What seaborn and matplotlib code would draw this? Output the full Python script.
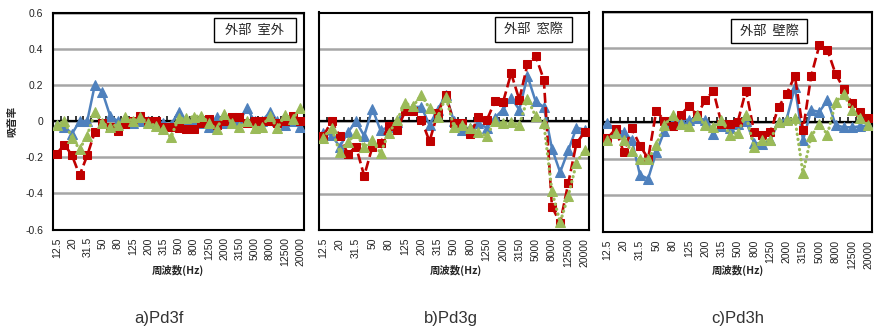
import numpy as np
import pandas as pd
import matplotlib
matplotlib.use("Agg")
import matplotlib.pyplot as plt
from matplotlib import font_manager
from matplotlib.patches import Rectangle
import seaborn as sns

# 1/3-octave band centre frequencies (Hz)
bands = ["12.5", "16", "20", "25", "31.5", "40", "50", "63", "80", "100",
         "125", "160", "200", "250", "315", "400", "500", "630", "800", "1000",
         "1250", "1600", "2000", "2500", "3150", "4000", "5000", "6300", "8000",
         "10000", "12500", "16000", "20000"]
tick_labels = bands[::2]

panel_titles = ["a)Pd3f", "b)Pd3g", "c)Pd3h"]
box_labels = ["外部  室外", "外部  窓際", "外部  壁際"]

# absorption coefficient, three measurement series per panel
blue_a = [-0.02, -0.03, -0.07, 0.0, 0.0, 0.20, 0.16, 0.03, 0.0, -0.01, -0.01, 0.0, 0.0,
          -0.01, -0.01, -0.02, 0.05, 0.0, 0.0, -0.01, -0.03, 0.02, -0.01, 0.0, 0.0, 0.07,
          0.0, 0.0, 0.05, 0.0, -0.02, 0.0, -0.03]
red_a = [-0.18, -0.13, -0.19, -0.30, -0.19, -0.06, -0.01, -0.03, -0.055, -0.015, 0.0, 0.03,
         0.0, 0.0, -0.03, -0.03, -0.04, -0.045, -0.045, -0.01, 0.01, -0.02, 0.0, 0.02, 0.02,
         -0.01, 0.0, 0.0, 0.0, -0.01, 0.0, 0.03, 0.0]
green_a = [-0.02, 0.0, -0.095, -0.155, -0.08, 0.05, -0.013, -0.03, -0.02, 0.025, 0.0, 0.02,
           -0.01, -0.025, -0.045, -0.09, 0.015, 0.015, 0.025, 0.03, -0.01, -0.045, 0.04,
           -0.01, -0.035, 0.0, -0.04, -0.03, 0.03, -0.04, 0.035, 0.01, 0.07]

blue_b = [-0.065, -0.075, -0.14, -0.06, 0.0, -0.08, 0.07, -0.05, -0.03, -0.005, 0.065, 0.08,
          0.08, -0.02, 0.065, 0.145, 0.0, -0.045, -0.035, -0.01, -0.035, 0.02, 0.065, 0.13,
          0.065, 0.25, 0.11, 0.08, -0.15, -0.28, -0.16, -0.035, -0.045]
red_b = [-0.08, 0.0, -0.08, -0.18, -0.14, -0.30, -0.14, -0.12, -0.025, -0.05, 0.055, 0.06,
         0.01, -0.11, 0.045, 0.145, -0.01, -0.01, -0.07, 0.025, 0.005, 0.11, 0.105, 0.265,
         0.12, 0.315, 0.36, 0.23, -0.47, -0.56, -0.34, -0.12, -0.06]
green_b = [-0.09, -0.035, -0.17, -0.115, -0.065, -0.14, -0.105, -0.175, -0.065, 0.005, 0.10,
           0.085, 0.145, 0.072, 0.022, 0.135, -0.03, -0.02, -0.037, -0.058, -0.08, 0.0,
           -0.01, -0.005, -0.02, 0.125, 0.028, -0.01, -0.385, -0.557, -0.41, -0.23, -0.155]

blue_c = [-0.005, -0.045, -0.055, -0.10, -0.29, -0.31, -0.165, -0.05, 0.0, 0.01, 0.01, 0.02,
          0.01, -0.065, -0.025, -0.035, -0.01, 0.005, -0.115, -0.12, -0.10, 0.0, 0.015, 0.19,
          -0.10, 0.063, 0.054, 0.117, -0.018, -0.03, -0.03, -0.025, -0.02]
red_c = [-0.09, -0.04, -0.165, -0.036, -0.13, -0.20, 0.06, 0.005, -0.023, 0.036, 0.085, 0.036,
         0.117, 0.168, -0.01, -0.01, 0.0, 0.17, -0.054, -0.07, -0.055, 0.08, 0.153, 0.25,
         -0.045, 0.25, 0.415, 0.39, 0.26, 0.18, 0.10, 0.055, 0.02]
green_c = [-0.10, -0.06, -0.10, -0.16, -0.20, -0.205, -0.125, -0.02, 0.035, -0.01, -0.025,
           0.035, -0.02, -0.03, 0.01, -0.07, -0.06, 0.036, -0.14, -0.10, -0.10, 0.0, 0.01,
           0.02, -0.28, -0.08, -0.01, -0.07, 0.108, 0.153, 0.063, 0.02, -0.02]

yticks = [0.6, 0.4, 0.2, 0.0, -0.2, -0.4, -0.6]
ytick_labels = ["0.6", "0.4", "0.2", "0", "-0.2", "-0.4", "-0.6"]

sns.set_theme(style="white")
available = {f.name for f in font_manager.fontManager.ttflist}
narrow = "Liberation Sans Narrow" if "Liberation Sans Narrow" in available else "Liberation Sans"
plt.rcParams["font.family"] = ["Liberation Sans", "Noto Sans CJK JP"]

W, H = 877, 326
fig = plt.figure(figsize=(W / 100, H / 100), dpi=100)

# axes boxes in pixels: left, top, right, bottom
boxes = [(53, 12.7, 304, 229.5), (319.3, 12.5, 588.7, 230.3), (603.3, 11.5, 872.3, 232.0)]
label_boxes = [(0.641, 0.864, 0.968, 0.976), (0.652, 0.866, 0.938, 0.980),
               (0.474, 0.856, 0.758, 0.964)]
series = [(blue_a, red_a, green_a), (blue_b, red_b, green_b), (blue_c, red_c, green_c)]

BLUE, RED, GREEN = "#4F81BD", "#C00000", "#9BBB59"
x = np.arange(len(bands))

for k, (l, t, r, b) in enumerate(boxes):
    ax = fig.add_axes([l / W, 1 - b / H, (r - l) / W, (b - t) / H])
    blue, red, green = series[k]
    df = pd.DataFrame({"pos": x, "blue": blue, "red": red, "green": green})

    ax.set_yticks(yticks)
    ax.yaxis.grid(True, color="#a6a6a6", lw=1.8, zorder=0)
    ax.xaxis.grid(False)
    ax.set_axisbelow(True)

    sns.lineplot(data=df, x="pos", y="blue", ax=ax, color=BLUE, lw=1.8,
                 linestyle="-", marker="^", markersize=6.8,
                 markeredgecolor=BLUE, markerfacecolor=BLUE, zorder=3)
    sns.lineplot(data=df, x="pos", y="red", ax=ax, color=RED, lw=1.9,
                 linestyle=(0, (3.8, 1.6)), marker="s", markersize=5.8,
                 markeredgecolor=RED, markerfacecolor=RED, zorder=4)
    sns.lineplot(data=df, x="pos", y="green", ax=ax, color=GREEN, lw=2.3,
                 linestyle=(0, (0.1, 1.5)), dash_capstyle="round", marker="^",
                 markersize=6.8, markeredgecolor=GREEN, markerfacecolor=GREEN, zorder=5)

    ax.set_xlim(-0.5, len(bands) - 0.5)
    ax.set_ylim(-0.6, 0.6)

    # category axis crossing at zero, with tick marks between bands
    ax.axhline(0, color="black", lw=1.6, zorder=2)
    ax.vlines(np.arange(len(bands) + 1) - 0.5, 0, 0.026, color="black", lw=1.1, zorder=2)

    ax.set_xticks(x[::2])
    ax.set_xticklabels(tick_labels, rotation=90, fontsize=7.5, color="#222222")
    ax.tick_params(axis="x", length=0, pad=5.5)
    if k == 0:
        ax.set_yticklabels(ytick_labels, fontsize=7.5, color="#222222")
        ax.tick_params(axis="y", length=0, pad=7)
    else:
        ax.set_yticklabels([])
        ax.tick_params(axis="y", length=0)
    ax.set_xlabel("")
    ax.set_ylabel("")

    for s in ax.spines.values():
        s.set_visible(True)
        s.set_color("black")
        s.set_linewidth(1.5)

    x0, y0, x1, y1 = label_boxes[k]
    ax.add_patch(Rectangle((x0, y0), x1 - x0, y1 - y0, transform=ax.transAxes,
                           facecolor="white", edgecolor="black", lw=1.0, zorder=6))
    ax.text((x0 + x1) / 2, (y0 + y1) / 2, box_labels[k], transform=ax.transAxes,
            ha="center", va="center", fontsize=9.5, zorder=7,
            family=["Noto Sans CJK JP", "Liberation Sans"])

# frequency axis titles and panel captions
xlabel_centres = [178, 456, 738]
caption_centres = [159, 451, 738]
for cx, px, cap in zip(xlabel_centres, caption_centres, panel_titles):
    fig.text(cx / W, 1 - 270 / H, "周波数(Hz)", ha="center", va="center",
             fontsize=7.5, fontweight="bold", family=["Noto Sans CJK JP", "Liberation Sans"])
    fig.text(px / W, 1 - 318 / H, cap, ha="center", va="center", fontsize=12,
             color="#333333", family=[narrow, "Liberation Sans"])

fig.text(12 / W, 1 - 121 / H, "吸音率", rotation=90, ha="center", va="center",
         fontsize=7.5, fontweight="bold", family=["Noto Sans CJK JP", "Liberation Sans"])

fig.savefig("out.png", dpi=100)
